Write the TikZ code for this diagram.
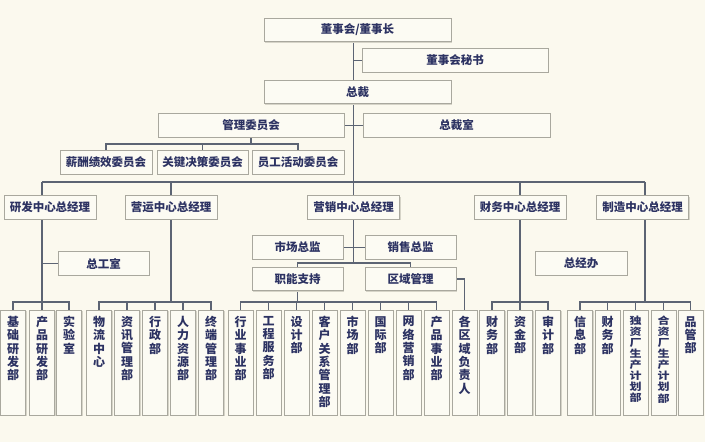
\documentclass[tikz,border=0pt]{standalone}
\usepackage{fontspec}
\setmainfont{Noto Sans CJK SC}
\usetikzlibrary{shadows}
\definecolor{bgc}{HTML}{FBF9EE}
\definecolor{boxc}{HTML}{FCFBF3}
\definecolor{bordc}{HTML}{A9A89E}
\definecolor{txtc}{HTML}{2C3262}
\definecolor{linec}{HTML}{5C6473}
\definecolor{shadc}{HTML}{D6D4C8}
\pgfdeclarelayer{bg}
\pgfdeclarelayer{edges}
\pgfsetlayers{bg,edges,main}
\newcommand\leafnode[4][]{%
  \node[leaf] (#2) at (#3,310) {};
  \node[leaftxt,#1] at ([yshift=-6pt]#2.north) {#4};}
\begin{document}
\begin{tikzpicture}[x=1pt,y=-1pt,
  box/.style={draw=bordc, fill=boxc, line width=0.8pt, minimum height=23.5pt,
    inner sep=0pt, text=txtc, font=\fontsize{11.5}{13}\selectfont\bfseries,
    drop shadow={shadow xshift=1pt, shadow yshift=-1pt, fill=shadc, opacity=1}},
  leaf/.style={draw=bordc, fill=boxc, line width=0.8pt, minimum width=25pt,
    minimum height=105pt, anchor=north, inner sep=0pt,
    drop shadow={shadow xshift=1pt, shadow yshift=-1pt, fill=shadc, opacity=1}},
  leaftxt/.style={anchor=north, align=center, text=txtc, inner sep=0pt,
    font=\fontsize{12}{13.3}\selectfont\bfseries,
    execute at begin node={\lineskiplimit=-50pt\relax\lineskip=0pt\relax}},
  squash/.style={yscale=0.83, transform shape},
  conn/.style={draw=linec, line width=1.2pt}]
\begin{pgfonlayer}{bg}
\fill[bgc] (0,0) rectangle (705,442);
\end{pgfonlayer}
\useasboundingbox (0,0) rectangle (705,442);

% top levels
\node[box, minimum width=187pt] (dsz) at (357.5,30) {董事会/董事长};
\node[box, minimum width=186pt] (mishu) at (455,60.5) {董事会秘书};
\node[box, minimum width=187pt] (zc) at (357.5,92) {总裁};
\node[box, minimum width=186pt] (gl) at (251,125.5) {管理委员会};
\node[box, minimum width=187pt] (zcs) at (456.5,125.5) {总裁室};
\node[box, minimum width=92pt] (c1) at (106,162.5) {薪酬绩效委员会};
\node[box, minimum width=91pt] (c2) at (202.5,162.5) {关键决策委员会};
\node[box, minimum width=92pt] (c3) at (298,162.5) {员工活动委员会};

% centre heads
\node[box, minimum width=92pt] (yf) at (50,207.5) {研发中心总经理};
\node[box, minimum width=92pt] (yy) at (171,207.5) {营运中心总经理};
\node[box, minimum width=92pt] (yx) at (353.5,207.5) {营销中心总经理};
\node[box, minimum width=92pt] (cw) at (520,207.5) {财务中心总经理};
\node[box, minimum width=92pt] (zz) at (642.5,207.5) {制造中心总经理};

% staff offices
\node[box, minimum width=91pt] (zgs) at (103.5,263.5) {总工室};
\node[box, minimum width=92pt] (zjb) at (581,263.5) {总经办};

% marketing sub-level
\node[box, minimum width=91pt] (sczj) at (297.5,247.5) {市场总监};
\node[box, minimum width=91pt] (xszj) at (410.5,247.5) {销售总监};
\node[box, minimum width=91pt] (znzc) at (297.5,279) {职能支持};
\node[box, minimum width=91pt] (qygl) at (410.5,279) {区域管理};

% leaves
\leafnode{a1}{13}{基\\础\\研\\发\\部}
\leafnode{a2}{42}{产\\品\\研\\发\\部}
\leafnode{a3}{69}{实\\验\\室}
\leafnode{b1}{99}{物\\流\\中\\心}
\leafnode{b2}{127}{资\\讯\\管\\理\\部}
\leafnode{b3}{155}{行\\政\\部}
\leafnode{b4}{183}{人\\力\\资\\源\\部}
\leafnode{b5}{211}{终\\端\\管\\理\\部}
\leafnode{m1}{240.5}{行\\业\\事\\业\\部}
\leafnode{m2}{268.5}{工\\程\\服\\务\\部}
\leafnode{m3}{296.5}{设\\计\\部}
\leafnode{m4}{324.5}{客\\户\\关\\系\\管\\理\\部}
\leafnode{m5}{352.5}{市\\场\\部}
\leafnode{m6}{380.5}{国\\际\\部}
\leafnode{m7}{408.5}{网\\络\\营\\销\\部}
\leafnode{m8}{436.5}{产\\品\\事\\业\\部}
\leafnode{m9}{464.5}{各\\区\\域\\负\\责\\人}
\leafnode{f1}{492}{财\\务\\部}
\leafnode{f2}{520}{资\\金\\部}
\leafnode{f3}{548}{审\\计\\部}
\leafnode{z1}{580}{信\\息\\部}
\leafnode{z2}{607.5}{财\\务\\部}
\leafnode[squash]{z3}{635.5}{独\\资\\厂\\生\\产\\计\\划\\部}
\leafnode[squash]{z4}{663.5}{合\\资\\厂\\生\\产\\计\\划\\部}
\leafnode{z5}{690.5}{品\\管\\部}

% helper coordinates
\coordinate (cb) at (0,144);
\coordinate (mb) at (0,182);
\coordinate (yxb) at (0,263);
\coordinate (lb) at (0,302);
\coordinate (rdt) at (42,219);
\coordinate (zzt) at (645,219);

\begin{pgfonlayer}{edges}
% main trunk
\draw[conn] (dsz.south -| yx.north) -- (yx.north);
\draw[conn] (mishu.west) -- (mishu.west -| yx.north);
\draw[conn] (zcs.west) -- (zcs.west -| yx.north);
\draw[conn] (gl.east) -- (gl.east -| yx.north);
% committees
\draw[conn] (gl.south) -- (gl.south |- cb);
\draw[conn] (c1.north) -- (c1.north |- cb) -- (c3.north |- cb) -- (c3.north);
\draw[conn] (c2.north) -- (c2.north |- cb);
% main bus
\draw[conn] (rdt |- mb) -- (zzt |- mb);
\draw[conn] (rdt |- mb) -- (rdt |- lb);
\draw[conn] (yy.north |- mb) -- (yy.south |- lb);
\draw[conn] (cw.north |- mb) -- (cw.south |- lb);
\draw[conn] (zzt |- mb) -- (zzt |- lb);
\draw[conn] (yx.south) -- (yx.south |- yxb);
% R&D
\draw[conn] (zgs.west) -- (zgs.west -| rdt);
\draw[conn] (a1.north) -- (a1.north |- lb) -- (a3.north |- lb) -- (a3.north);
\draw[conn] (a2.north) -- (a2.north |- lb);
% operations
\draw[conn] (b1.north) -- (b1.north |- lb) -- (b5.north |- lb) -- (b5.north);
\foreach \n in {b2,b3,b4} \draw[conn] (\n.north) -- (\n.north |- lb);
% marketing
\draw[conn] (sczj.east) -- (xszj.west);
\draw[conn] (znzc.north) -- (znzc.north |- yxb) -- (qygl.north |- yxb) -- (qygl.north);
\draw[conn] (qygl.east) -| (m9.north);
\draw[conn] (znzc.south) -- (znzc.south |- lb);
\draw[conn] (m1.north) -- (m1.north |- lb) -- (m8.north |- lb) -- (m8.north);
\foreach \n in {m2,m3,m4,m5,m6,m7} \draw[conn] (\n.north) -- (\n.north |- lb);
% finance
\draw[conn] (f1.north) -- (f1.north |- lb) -- (f3.north |- lb) -- (f3.north);
\draw[conn] (f2.north) -- (f2.north |- lb);
% manufacturing
\draw[conn] (z1.north) -- (z1.north |- lb) -- (z5.north |- lb) -- (z5.north);
\foreach \n in {z2,z3,z4} \draw[conn] (\n.north) -- (\n.north |- lb);
\end{pgfonlayer}
\end{tikzpicture}
\end{document}
